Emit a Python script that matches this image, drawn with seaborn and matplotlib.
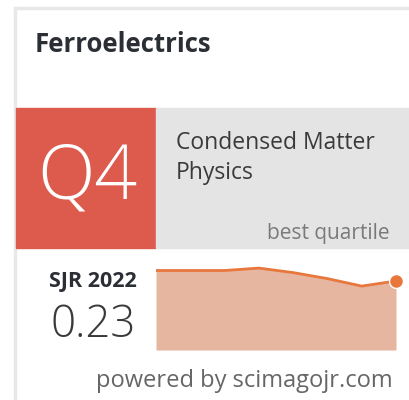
import numpy as np
import pandas as pd
import seaborn as sns
import matplotlib.pyplot as plt
from matplotlib.patches import Rectangle

# Widget data
journal = 'Ferroelectrics'
quartile = 'Q4'
category = 'Condensed Matter\nPhysics'
sjr_year = 2022
sjr_value = 0.23
years = [2015, 2016, 2017, 2018, 2019, 2020, 2021, 2022]
sjr = [0.265, 0.265, 0.265, 0.273, 0.258, 0.238, 0.213, 0.23]

df = pd.DataFrame({'year': years, 'sjr': sjr})

sns.set_theme(style='white')
plt.rcParams['font.family'] = ['Open Sans', 'DejaVu Sans']

W, H = 409, 400
fig = plt.figure(figsize=(W / 100, H / 100), dpi=100)
fig.patch.set_facecolor('white')

# helper: pixel coords -> figure fraction
def px(x, y):
    return x / W, 1 - y / H

def rect(x0, y0, x1, y1, color):
    fx, fy = px(x0, y1)
    fig.patches.append(Rectangle((fx, fy), (x1 - x0) / W, (y1 - y0) / H,
                                 transform=fig.transFigure, color=color, zorder=0))

# card border (top and left)
rect(14, 7, W, 9, '#e8e8e8')
rect(14, 7, 16, H, '#e8e8e8')

# quartile boxes
rect(16, 108, 156, 248, '#dd5b4d')
rect(156, 108, W, 248, '#e4e4e4')

fig.text(*px(35, 44), journal, fontsize=18.5, fontweight='bold', color='#2c2e36',
         ha='left', va='center')
fig.text(*px(87, 179), quartile, fontsize=54, fontweight='light', color='white',
         ha='center', va='center')
fig.text(*px(176, 158), category, fontsize=16.5, color='#3a3a3a',
         ha='left', va='center', linespacing=1.3)
fig.text(*px(390, 234), 'best quartile', fontsize=15, color='#7a7a7a',
         ha='right', va='center')

fig.text(*px(137, 282), f'SJR {sjr_year}', fontsize=15.5, fontweight='bold',
         color='#2c2e36', ha='right', va='center')
fig.text(*px(136, 326), f'{sjr_value:.2f}', fontsize=31.5, fontweight='light',
         color='#3a3a3a', ha='right', va='center')
fig.text(*px(244, 381), 'powered by scimagojr.com', fontsize=17, color='#666666',
         ha='center', va='center')

# SJR sparkline
x0, y0 = px(156, 350)
ax = fig.add_axes([x0, y0, 240 / W, 87 / H])
ax.fill_between(df['year'], df['sjr'], 0, color='#e7b6a1', linewidth=0)
sns.lineplot(data=df, x='year', y='sjr', ax=ax, color='#e8773d', linewidth=2)
ax.plot(years[-1], sjr[-1], 'o', color='#e8773d', markersize=10,
        markeredgecolor='white', markeredgewidth=1, clip_on=False)
ax.set_xlim(years[0], years[-1])
ax.set_ylim(0, 0.29)
ax.axis('off')

fig.savefig('out.png', dpi=100)
